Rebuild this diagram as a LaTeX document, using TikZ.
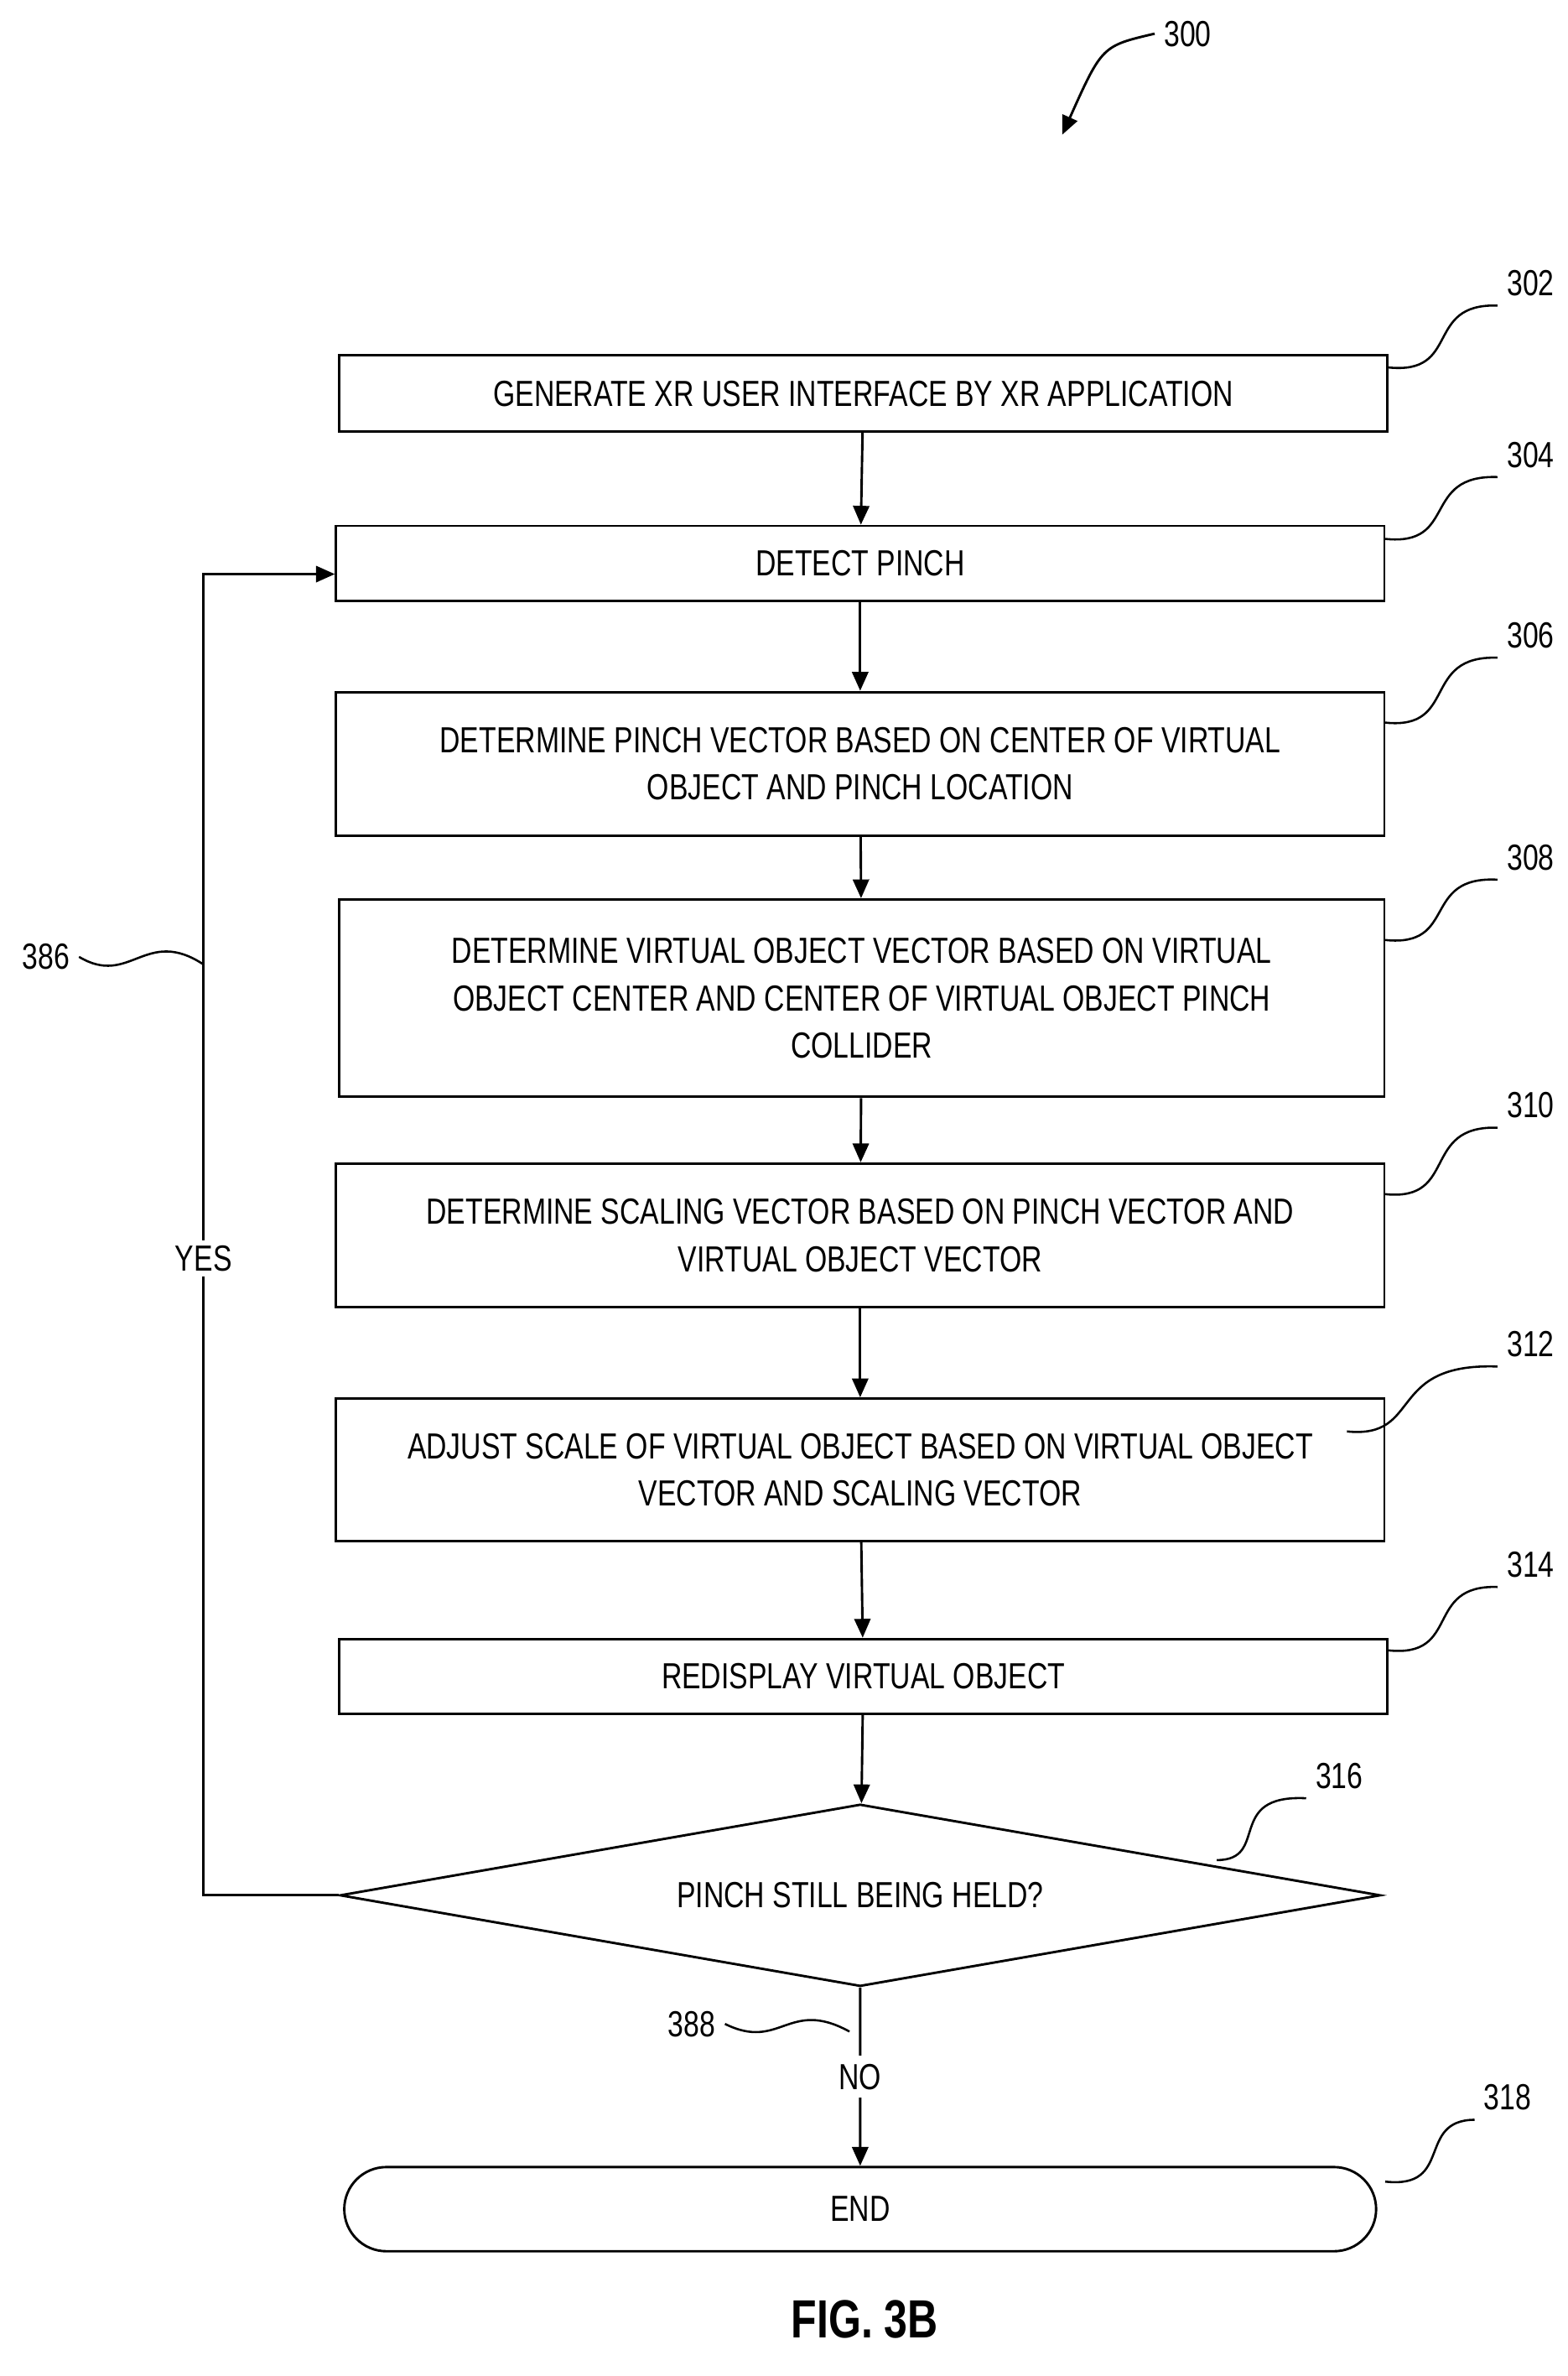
\documentclass[tikz,border=0pt]{standalone}
\usepackage{fontspec}
\setmainfont{Liberation Sans}[FakeStretch=0.78]
\usetikzlibrary{arrows.meta, shapes.geometric, shapes.misc, positioning}

\begin{document}
\begin{tikzpicture}[
        x=0.02cm, y=-0.02cm, % one unit per pixel of the sheet
        every node/.style={font=\fontsize{13.5}{17.5}\selectfont, align=center},
        stepbox/.style={rectangle, draw, line width=0.9pt, minimum width=13.7cm, inner sep=2pt},
        flowarrow/.style={-{Triangle[length=7pt,width=6pt]}, line width=0.9pt},
        refline/.style={line width=0.8pt}
    ]
    \useasboundingbox (0,0) rectangle (1024,1552);
    % --- Steps ---
    \node (b302) [stepbox, minimum height=1cm] at (564,257) {GENERATE XR USER INTERFACE BY XR APPLICATION};
    \node (b304) [stepbox, minimum height=0.98cm] at (562,368) {DETECT PINCH};
    \node (b306) [stepbox, minimum height=1.88cm] at (562,499) {DETERMINE PINCH VECTOR BASED ON CENTER OF VIRTUAL\\OBJECT AND PINCH LOCATION};
    \node (b308) [stepbox, minimum height=2.58cm, minimum width=13.66cm] at (563,652) {DETERMINE VIRTUAL OBJECT VECTOR BASED ON VIRTUAL\\OBJECT CENTER AND CENTER OF VIRTUAL OBJECT PINCH\\COLLIDER};
    \node (b310) [stepbox, minimum height=1.88cm] at (562,807) {DETERMINE SCALING VECTOR BASED ON PINCH VECTOR AND\\VIRTUAL OBJECT VECTOR};
    \node (b312) [stepbox, minimum height=1.86cm] at (562,960) {ADJUST SCALE OF VIRTUAL OBJECT BASED ON VIRTUAL OBJECT\\VECTOR AND SCALING VECTOR};
    \node (b314) [stepbox, minimum height=0.98cm] at (564,1095) {REDISPLAY VIRTUAL OBJECT};
    \node (d316) [diamond, draw, line width=0.9pt, minimum width=13.6cm, minimum height=2.38cm, aspect=5.7, inner sep=0pt] at (562,1238) {PINCH STILL BEING HELD?};
    \node (e318) [rounded rectangle, draw, line width=0.9pt, minimum width=13.72cm, minimum height=1.1cm] at (562,1443) {END};
    % --- Connections ---
    \draw[flowarrow] (b302) -- (b304);
    \draw[flowarrow] (b304) -- (b306);
    \draw[flowarrow] (b306) -- (b308);
    \draw[flowarrow] (b308) -- (b310);
    \draw[flowarrow] (b310) -- (b312);
    \draw[flowarrow] (b312) -- (b314);
    \draw[flowarrow] (b314) -- (d316);
    \draw[flowarrow] (d316) -- node[fill=white, inner sep=3pt] {NO} (e318);
    \coordinate (loop) at (133,1238);
    \draw[flowarrow] (d316.west) -- (loop) -- (133,375) -- (b304.west |- 0,375);
    \node (yes) [fill=white, inner sep=2pt] at (133,822) {YES};
    % --- Reference numerals ---
    \node (n300) at (776,22) {300};
    \draw[flowarrow] (n300.west) .. controls (720,30) .. (694,88);
    \foreach \nm/\ny in {b302/185, b304/297, b306/415, b308/560, b310/722, b312/878, b314/1022}{
        \node (r\nm) at (1000,\ny) {\pgfmathparse{int(\ny>0)}\ifcase0\fi};
    }
    \node (n302) at (1000,185) {302};
    \node (n304) at (1000,297) {304};
    \node (n306) at (1000,415) {306};
    \node (n308) at (1000,560) {308};
    \node (n310) at (1000,722) {310};
    \node (n312) at (1000,878) {312};
    \node (n314) at (1000,1022) {314};
    \node (n316) at (875,1160) {316};
    \node (n318) at (985,1370) {318};
    \node (n386) at (30,625) {386};
    \node (n388) at (452,1322) {388};
    \draw[refline] (907,240) .. controls (955,245) and (930,198) .. (n302.south west);
    \draw[refline] (905,352) .. controls (953,357) and (928,310) .. (n304.south west);
    \draw[refline] (905,472) .. controls (953,477) and (928,428) .. (n306.south west);
    \draw[refline] (905,614) .. controls (953,619) and (928,572) .. (n308.south west);
    \draw[refline] (905,780) .. controls (953,785) and (928,735) .. (n310.south west);
    \draw[refline] (880,935) .. controls (930,940) and (905,890) .. (n312.south west);
    \draw[refline] (907,1078) .. controls (955,1083) and (930,1035) .. (n314.south west);
    \draw[refline] (795,1215) .. controls (830,1215) and (800,1172) .. (n316.south west);
    \draw[refline] (905,1425) .. controls (950,1430) and (925,1385) .. (n318.south west);
    \draw[refline] (n386.east) .. controls (85,645) and (95,605) .. (133,630);
    \draw[refline] (n388.east) .. controls (510,1340) and (515,1305) .. (555,1327);
    % --- Caption ---
    \node (fig) at (565,1515) {\fontsize{20}{24}\selectfont\bfseries FIG. 3B};
\end{tikzpicture}
\end{document}
